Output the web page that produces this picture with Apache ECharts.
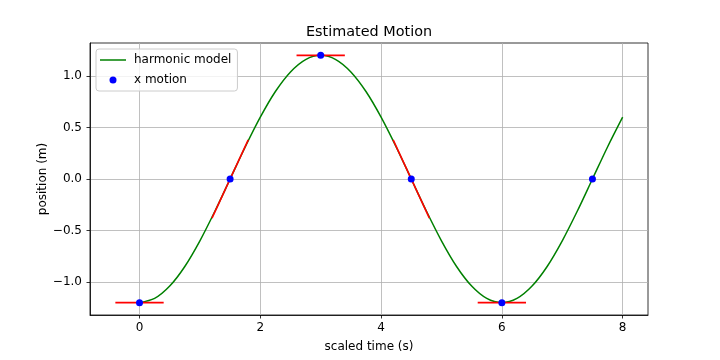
<!DOCTYPE html>
<html>
<head>
<meta charset="utf-8">
<script src="https://cdn.jsdelivr.net/npm/echarts@6/dist/echarts.min.js"></script>
<style>html,body{margin:0;padding:0;background:#fff}#c{width:720px;height:360px}</style>
</head>
<body>
<div id="c"></div>
<script>
// Harmonic model curve
var modelTimes = [0,0.25,0.5,0.75,1,1.25,1.5,1.75,2,2.25,2.5,2.75,3,3.25,3.5,3.75,4,4.25,4.5,4.75,5,5.25,5.5,5.75,6,6.25,6.5,6.75,7,7.25,7.5,7.75,8];
var modelPos = [-1.2,-1.159,-1.039,-0.849,-0.6,-0.311,0,0.311,0.6,0.849,1.039,1.159,1.2,1.159,1.039,0.849,0.6,0.311,0,-0.311,-0.6,-0.849,-1.039,-1.159,-1.2,-1.159,-1.039,-0.849,-0.6,-0.311,0,0.311,0.6];
// Observed motion points
var motionTimes = [0,1.5,3,4.5,6,7.5];
var motionPos = [-1.2,0,1.2,0,-1.2,0];
// Tangent segments (start/end)
var tanT0 = [-0.4,1.2,2.6,4.2,5.6];
var tanX0 = [-1.2,-0.38,1.2,0.38,-1.2];
var tanT1 = [0.4,1.8,3.4,4.8,6.4];
var tanX1 = [-1.2,0.38,1.2,-0.38,-1.2];
var xTicks = [0,2,4,6,8];
var yTicks = [-1,-0.5,0,0.5,1];

var FONT = 'DejaVu Sans';
var chart = echarts.init(document.getElementById('c'), null, {renderer:'canvas'});

var series = [];
series.push({
  name:'harmonic model', type:'line', smooth:0.3, symbol:'none',
  lineStyle:{color:'#008000', width:1.5}, itemStyle:{color:'#008000'},
  data: modelTimes.map(function(t,i){return [t, modelPos[i]];}), z:2, animation:false
});
for (var i=0;i<tanT0.length;i++){
  series.push({
    name:'tangent'+i, type:'line', symbol:'none',
    lineStyle:{color:'#ff0000', width:1.6},
    data:[[tanT0[i],tanX0[i]],[tanT1[i],tanX1[i]]], z:3, animation:false
  });
}
series.push({
  name:'x motion', type:'scatter', symbol:'circle', symbolSize:7,
  itemStyle:{color:'#0000ff', opacity:1},
  data: motionTimes.map(function(t,i){return [t, motionPos[i]];}), z:4, animation:false
});

function fmt(v){ var s = Number(v).toFixed(1); return s.replace('-', '\u2212'); }

chart.setOption({
  backgroundColor:'#fff',
  animation:false,
  title:{text:'Estimated Motion', left:306, top:25, padding:0,
    textStyle:{fontFamily:FONT, fontSize:14.4, fontWeight:'normal', color:'#000'}},
  legend:{
    data:[{name:'harmonic model', icon:'path://M0,0H26V1.5H0Z'},{name:'x motion', icon:'circle'}],
    orient:'vertical', left:96, top:49,
    itemWidth:26, itemHeight:7, itemGap:8, symbolKeepAspect:true,
    padding:[5,6,5,4],
    borderColor:'#cccccc', borderWidth:1, borderRadius:3,
    backgroundColor:'rgba(255,255,255,0.8)',
    textStyle:{fontFamily:FONT, fontSize:12, color:'#000', padding:[0,0,0,3]}
  },
  grid:{left:90, right:72, top:43, bottom:45, show:true, borderColor:'#000', borderWidth:0.8, containLabel:false},
  xAxis:{
    type:'value', min:-0.82, max:8.42,
    name:'scaled time (s)', nameLocation:'middle', nameGap:26, nameMoveOverlap:false,
    nameTextStyle:{fontFamily:FONT, fontSize:12, color:'#000'},
    axisLine:{show:true, onZero:false, lineStyle:{color:'#000', width:0.8}},
    axisTick:{show:true, length:3.5, customValues:xTicks, lineStyle:{color:'#000', width:0.8}},
    axisLabel:{customValues:xTicks, fontFamily:FONT, fontSize:12, color:'#000', margin:7,
      formatter:function(v){return String(v);}},
    splitLine:{show:true, lineStyle:{color:'#b0b0b0', width:0.8}}
  },
  yAxis:{
    type:'value', min:-1.32, max:1.32,
    name:'position (m)', nameLocation:'middle', nameGap:41, nameRotate:90, nameMoveOverlap:false,
    nameTextStyle:{fontFamily:FONT, fontSize:12, color:'#000'},
    axisLine:{show:true, onZero:false, lineStyle:{color:'#000', width:0.8}},
    axisTick:{show:true, length:3.5, customValues:yTicks, lineStyle:{color:'#000', width:0.8}},
    axisLabel:{customValues:yTicks, fontFamily:FONT, fontSize:12, color:'#000', margin:8, formatter:fmt},
    splitLine:{show:true, lineStyle:{color:'#b0b0b0', width:0.8}}
  },
  series: series
});
</script>
</body>
</html>
